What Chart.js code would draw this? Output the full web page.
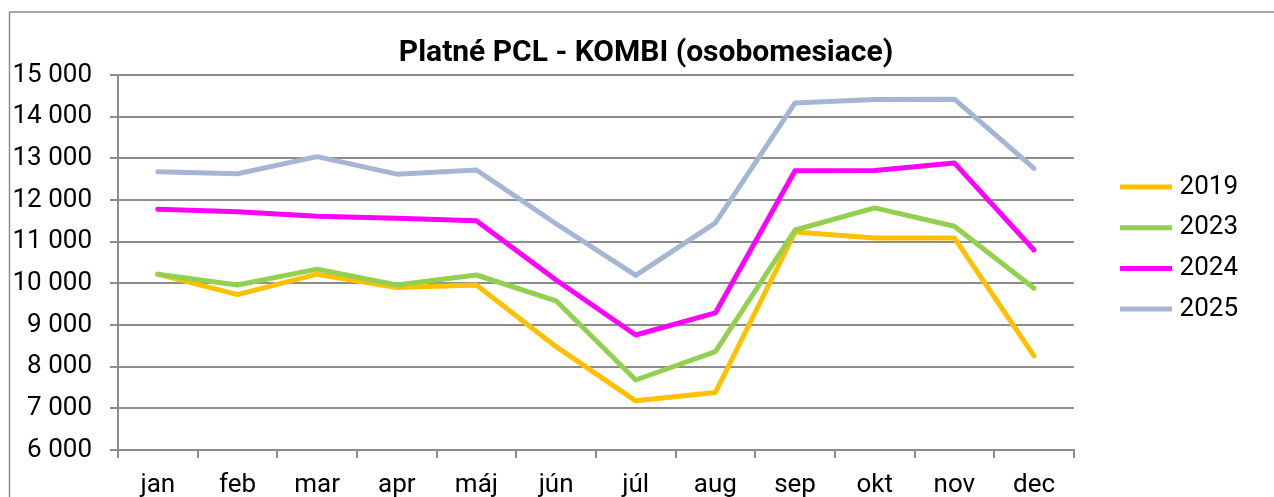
<!DOCTYPE html>
<html>
<head>
<meta charset="utf-8">
<script src="https://cdn.jsdelivr.net/npm/chart.js@4/dist/chart.umd.min.js"></script>
<style>
html,body{margin:0;padding:0;background:#fff;overflow:hidden}
#wrap{width:1274px;height:497px;position:relative}
canvas{display:block}
</style>
</head>
<body>
<div id="wrap"><canvas id="c" width="1274" height="497"></canvas></div>
<script>
// ---- data ----
const months = ['jan','feb','mar','apr','máj','jún','júl','aug','sep','okt','nov','dec'];
const seriesNames = ['2019','2023','2024','2025'];
const values2019 = [10220, 9730, 10220, 9900, 9960, 8480, 7180, 7380, 11230, 11090, 11090, 8260];
const values2023 = [10220, 9960, 10340, 9960, 10200, 9580, 7680, 8360, 11280, 11810, 11370, 9880];
const values2024 = [11780, 11720, 11610, 11560, 11500, 10080, 8760, 9290, 12700, 12710, 12890, 10800];
const values2025 = [12680, 12630, 13040, 12620, 12720, 11430, 10190, 11450, 14330, 14410, 14420, 12760];
const yMin = 6000, yMax = 15000, yStep = 1000;
const titleText = 'Platné PCL - KOMBI (osobomesiace)';

// ---- styles ----
const seriesColors = ['#FFC000', '#92D050', '#FF00FF', '#A5B6D5'];
const gridColor = '#8c8c8c';
const FONT = 'Roboto';

const allValues = [values2019, values2023, values2024, values2025];

function fmt(v){ return String(v).replace(/\B(?=(\d{3})+(?!\d))/g, ' '); }

const layoutFix = {
  id: 'layoutFix',
  afterLayout(chart){
    const l = chart.legend;
    const pad = l.options.labels.padding;
    const fs = l.options.labels.font.size;
    l.left = 1120 - pad;
    l.right = 1238;
    l.width = l.right - l.left;
    l.top = 187 - fs/2 - pad;
    l.bottom = l.top + 400;
    l.height = 400;
    const t = chart.titleBlock;
    t.left = 18; t.right = chart.width; t.width = t.right - t.left;
  },
  beforeDraw(chart){
    const ctx = chart.ctx;
    ctx.save();
    ctx.strokeStyle = gridColor;
    ctx.lineWidth = 1.5;
    ctx.beginPath();
    ctx.moveTo(9.5, 600);
    ctx.lineTo(9.5, 12);
    ctx.lineTo(1280, 12);
    ctx.stroke();
    ctx.restore();
  }
};

new Chart(document.getElementById('c'), {
  type: 'line',
  data: {
    labels: months,
    datasets: allValues.map((vals, i) => ({
      label: seriesNames[i],
      data: vals,
      borderColor: seriesColors[i],
      backgroundColor: seriesColors[i],
      borderWidth: 5,
      pointRadius: 0,
      pointHoverRadius: 0,
      tension: 0,
      fill: false,
      borderCapStyle: 'round',
      borderJoinStyle: 'round',
      order: allValues.length - i
    }))
  },
  options: {
    responsive: false,
    devicePixelRatio: 1,
    animation: false,
    layout: { padding: { left: 0, right: 52, top: 0, bottom: 0 } },
    plugins: {
      tooltip: { enabled: false },
      title: {
        display: true,
        text: titleText,
        color: '#000',
        font: { family: FONT, size: 30, weight: 'bold' },
        padding: { top: 35, bottom: 4 }
      },
      legend: {
        display: true,
        position: 'right',
        align: 'start',
        labels: {
          usePointStyle: true,
          pointStyle: 'line',
          pointStyleWidth: 52,
          color: '#000',
          font: { family: FONT, size: 26 },
          padding: 14.7,
          textAlign: 'right',
          sort: (a, b) => a.datasetIndex - b.datasetIndex
        }
      }
    },
    scales: {
      x: {
        type: 'category',
        offset: true,
        afterFit(s){ s.height = 47; },
        grid: {
          offset: true,
          drawOnChartArea: false,
          drawTicks: true,
          tickLength: 8,
          color: gridColor,
          lineWidth: 2
        },
        border: { display: true, color: gridColor, width: 2 },
        ticks: {
          color: '#000',
          font: { family: FONT, size: 26 },
          padding: 12,
          maxRotation: 0,
          autoSkip: false
        }
      },
      y: {
        min: yMin,
        max: yMax,
        afterFit(s){ s.width = 118; },
        grid: {
          color: gridColor,
          lineWidth: 2,
          drawTicks: true,
          tickLength: 8
        },
        border: { display: true, color: gridColor, width: 2 },
        ticks: {
          stepSize: yStep,
          color: '#000',
          font: { family: FONT, size: 26 },
          padding: 18,
          callback: v => fmt(v)
        }
      }
    }
  },
  plugins: [layoutFix]
});
</script>
</body>
</html>
